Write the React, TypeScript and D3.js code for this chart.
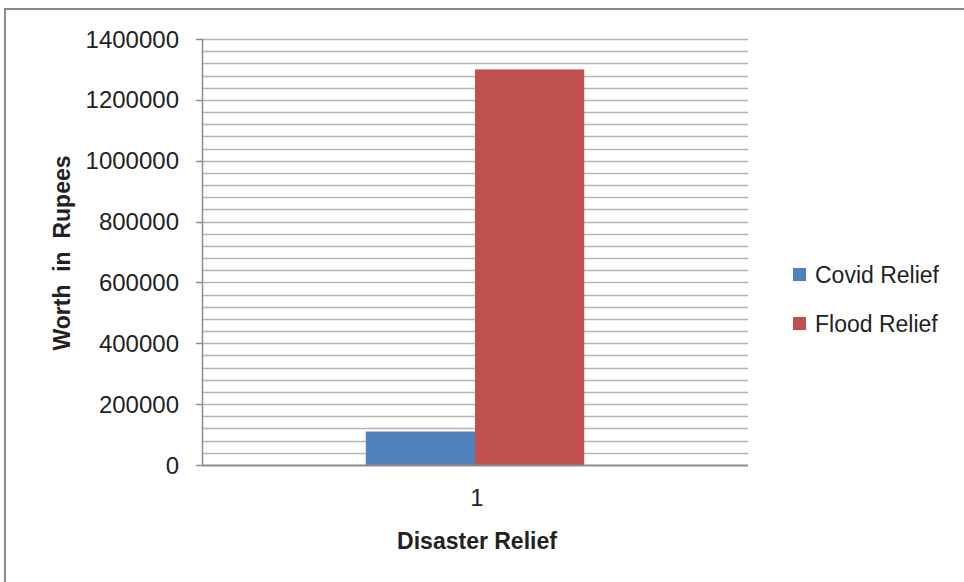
import React, { useEffect, useRef } from 'react';
import * as d3 from 'd3';

const categories = ['1'];
const seriesNames = ['Covid Relief', 'Flood Relief'];
const covidValues = [110000];
const floodValues = [1300000];
const yTicks = [0, 200000, 400000, 600000, 800000, 1000000, 1200000, 1400000];
const colors = ['#4F81BD', '#C0504D'];

const App: React.FC = () => {
  const ref = useRef<SVGSVGElement>(null);

  useEffect(() => {
    const svg = d3.select(ref.current);
    svg.selectAll('*').remove();

    const width = 964;
    const height = 582;
    const margin = { top: 39, right: 216, bottom: 117, left: 202 };
    const font = '"Liberation Sans", Arial, sans-serif';

    // outer frame
    svg.append('rect')
      .attr('x', 5).attr('y', 9)
      .attr('width', width + 20).attr('height', height + 20)
      .attr('fill', '#fff').attr('stroke', '#8c8c8c').attr('stroke-width', 2);

    const g = svg.append('g').attr('transform', `translate(${margin.left},${margin.top})`);
    const w = width - margin.left - margin.right;
    const h = height - margin.top - margin.bottom;

    const y = d3.scaleLinear().domain([0, 1400000]).range([h, 0]);
    const x0 = d3.scaleBand().domain(categories).range([0, w]).paddingInner(0).paddingOuter(0);
    const groupW = x0.bandwidth() / 2.5;
    const x1 = d3.scaleBand().domain(seriesNames).range([0, groupW]);

    // minor + major gridlines
    const minor = d3.range(40000, 1400001, 40000);
    g.selectAll('.grid').data(minor).enter().append('line')
      .attr('x1', 0).attr('x2', w)
      .attr('y1', d => Math.round(y(d)) + 0.5).attr('y2', d => Math.round(y(d)) + 0.5)
      .attr('stroke', '#b4b4b4').attr('stroke-width', 1.3);

    const series = [covidValues, floodValues];
    categories.forEach((c, ci) => {
      const gx = (x0(c) || 0) + (x0.bandwidth() - groupW) / 2;
      seriesNames.forEach((s, si) => {
        const v = series[si][ci];
        g.append('rect')
          .attr('x', gx + (x1(s) || 0))
          .attr('y', y(v))
          .attr('width', x1.bandwidth())
          .attr('height', h - y(v))
          .attr('fill', colors[si]);
      });
    });

    // y axis
    g.append('line').attr('x1', 0.5).attr('x2', 0.5).attr('y1', 0).attr('y2', h)
      .attr('stroke', '#8c8c8c').attr('stroke-width', 1.5);
    g.selectAll('.ytick').data(yTicks).enter().append('line')
      .attr('x1', -6).attr('x2', 0)
      .attr('y1', d => Math.round(y(d)) + 0.5).attr('y2', d => Math.round(y(d)) + 0.5)
      .attr('stroke', '#8c8c8c').attr('stroke-width', 1.5);
    g.selectAll('.ylabel').data(yTicks).enter().append('text')
      .attr('x', -23).attr('y', d => y(d))
      .attr('dy', '0.36em')
      .attr('text-anchor', 'end')
      .attr('font-family', font).attr('font-size', 24).attr('fill', '#222')
      .text(d => String(d));

    // x axis
    g.append('line').attr('x1', 0).attr('x2', w).attr('y1', h + 0.5).attr('y2', h + 0.5)
      .attr('stroke', '#8c8c8c').attr('stroke-width', 2);
    g.selectAll('.xlabel').data(categories).enter().append('text')
      .attr('x', d => (x0(d) || 0) + x0.bandwidth() / 2 + 2)
      .attr('y', h + 41)
      .attr('text-anchor', 'middle')
      .attr('font-family', font).attr('font-size', 24).attr('fill', '#222')
      .text(d => d);

    // axis titles
    svg.append('text')
      .attr('x', margin.left + w / 2 + 2).attr('y', 549)
      .attr('text-anchor', 'middle')
      .attr('font-family', font).attr('font-size', 23).attr('font-weight', 'bold').attr('fill', '#222')
      .text('Disaster Relief');
    svg.append('text')
      .attr('transform', `translate(70,${margin.top + h / 2 + 1}) rotate(-90)`)
      .attr('text-anchor', 'middle')
      .attr('font-family', font).attr('font-size', 23).attr('font-weight', 'bold').attr('fill', '#222')
      .attr('xml:space', 'preserve')
      .style('white-space', 'pre')
      .text('Worth  in  Rupees');

    // legend
    const legend = svg.append('g').attr('transform', 'translate(793,268)');
    seriesNames.forEach((s, i) => {
      const row = legend.append('g').attr('transform', `translate(0,${i * 49})`);
      row.append('rect').attr('width', 13).attr('height', 13).attr('fill', colors[i]);
      row.append('text')
        .attr('x', 22).attr('y', 7).attr('dy', '0.36em')
        .attr('font-family', font).attr('font-size', 23).attr('fill', '#222')
        .text(s);
    });
  }, []);

  return (
    <svg ref={ref} width={964} height={582}
      style={{ position: 'absolute', left: 0, top: 0, background: '#fff' }} />
  );
};

export default App;
